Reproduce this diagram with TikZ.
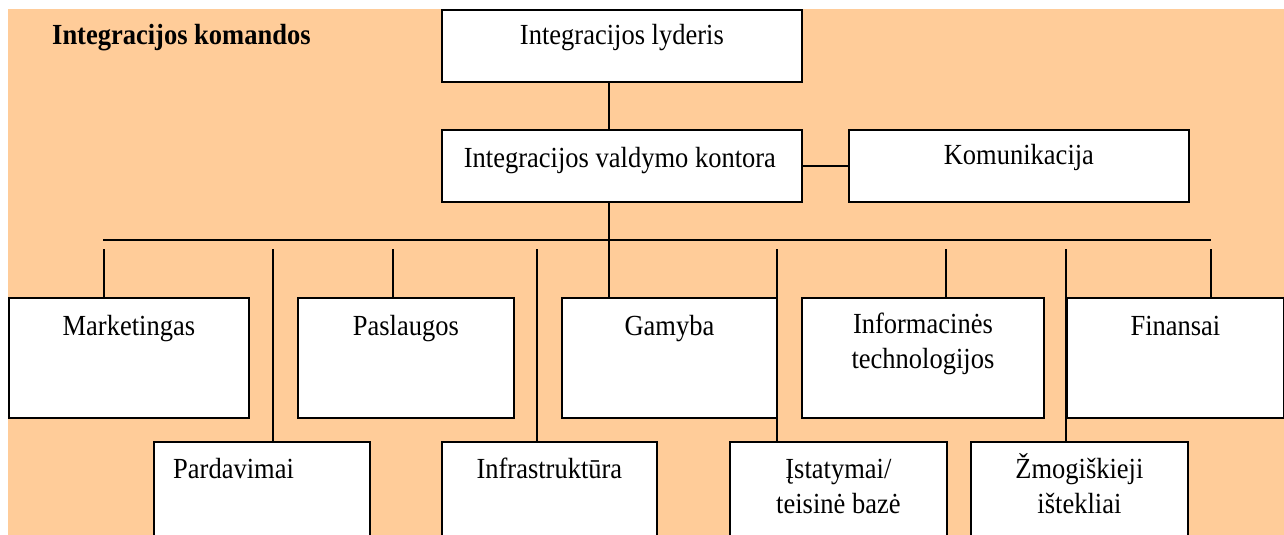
\documentclass[tikz,border=0pt]{standalone}
\usepackage{fontspec}
\setmainfont{Liberation Serif}
\usetikzlibrary{calc}
\definecolor{peach}{RGB}{255,204,153}
\tikzset{
  box/.style={draw=black, fill=white, line width=1.8pt, inner sep=0pt, anchor=north west},
  wire/.style={draw=black, line width=1.8pt},
  lbl/.style={inner sep=0pt, anchor=base, font=\fontsize{26.5}{32}\selectfont},
}
% slightly taller lettering
\newcommand\tallText[1]{\scalebox{1}[1.1]{#1}}
\newcommand\twoLines[2]{\tallText{\parbox[t]{260pt}{\centering #1\\#2}}}
\begin{document}
\begin{tikzpicture}[x=1pt, y=-1pt]
\useasboundingbox (0,0) rectangle (1284,535);
\clip (0,0) rectangle (1284,535);
\fill[peach] (8,9) rectangle (1284,540);

\node[lbl, anchor=base west, font=\fontsize{26.5}{32}\selectfont\bfseries] (title) at (52,45) {\tallText{Integracijos komandos}};

% management level
\node[box, minimum width=360pt, minimum height=72pt] (lyd) at (441,9) {};
\node[box, minimum width=360pt, minimum height=72pt] (kon) at (441,129) {};
\node[box, minimum width=340pt, minimum height=72pt] (kom) at (848,129) {};

% first row of teams
\node[box, minimum width=240pt, minimum height=120pt] (mkt) at (8,297) {};
\node[box, minimum width=216pt, minimum height=120pt] (pas) at (297,297) {};
\node[box, minimum width=215pt, minimum height=120pt] (gam) at (561,297) {};
\node[box, minimum width=242pt, minimum height=120pt] (inf) at (801,297) {};
\node[box, minimum width=217pt, minimum height=120pt] (fin) at (1066,297) {};

% second row of teams
\node[box, minimum width=216pt, minimum height=120pt] (par) at (153,441) {};
\node[box, minimum width=215pt, minimum height=120pt] (infra) at (441,441) {};
\node[box, minimum width=217pt, minimum height=120pt] (ist) at (729,441) {};
\node[box, minimum width=217pt, minimum height=120pt] (zmo) at (970,441) {};

% labels
\node[lbl] (lydT) at ($(lyd.north)+(0,36)$) {\tallText{Integracijos lyderis}};
\node[lbl] (konT) at ($(kon.north)+(-2,38)$) {\tallText{Integracijos valdymo kontora}};
\node[lbl] (komT) at ($(kom.north)+(0,35)$) {\tallText{Komunikacija}};
\node[lbl] (mktT) at ($(mkt.north)+(0,38)$) {\tallText{Marketingas}};
\node[lbl] (pasT) at ($(pas.north)+(0,38)$) {\tallText{Paslaugos}};
\node[lbl] (gamT) at ($(gam.north)+(0,38)$) {\tallText{Gamyba}};
\node[lbl] (infT) at ($(inf.north)+(0,36)$) {\twoLines{Informacinės}{technologijos}};
\node[lbl] (finT) at ($(fin.north)+(0,38)$) {\tallText{Finansai}};
\node[lbl, anchor=base west] (parT) at ($(par.north west)+(20,37)$) {\tallText{Pardavimai}};
\node[lbl] (infraT) at ($(infra.north)+(0,37)$) {\tallText{Infrastruktūra}};
\node[lbl] (istT) at ($(ist.north)+(0,37)$) {\twoLines{Įstatymai/}{teisinė bazė}};
\node[lbl] (zmoT) at ($(zmo.north)+(0,37)$) {\twoLines{Žmogiškieji}{ištekliai}};

% connector points
\coordinate (spine) at (609,0);
\coordinate (busL) at (103,240);
\coordinate (busR) at (1211,240);
\coordinate (dMkt) at (104,249);
\coordinate (dPar) at (273,249);
\coordinate (dPas) at (393,249);
\coordinate (dInfra) at (537,249);
\coordinate (dIst) at (777,249);
\coordinate (dInf) at (946,249);
\coordinate (dZmo) at (1066,249);
\coordinate (dFin) at (1211,249);

% connectors
\draw[wire] (lyd.south -| spine) -- (kon.north -| spine);
\draw[wire] (kon.east) -- (kom.west);
\draw[wire] (kon.south -| spine) -- (gam.north -| spine);
\draw[wire] (busL) -- (busR);
\draw[wire] (dMkt) -- (dMkt |- mkt.north);
\draw[wire] (dPar) -- (dPar |- par.north);
\draw[wire] (dPas) -- (dPas |- pas.north);
\draw[wire] (dInfra) -- (dInfra |- infra.north);
\draw[wire] (dIst) -- (dIst |- ist.north);
\draw[wire] (dInf) -- (dInf |- inf.north);
\draw[wire] (dZmo) -- (dZmo |- zmo.north);
\draw[wire] (dFin) -- (dFin |- fin.north);
\end{tikzpicture}
\end{document}
